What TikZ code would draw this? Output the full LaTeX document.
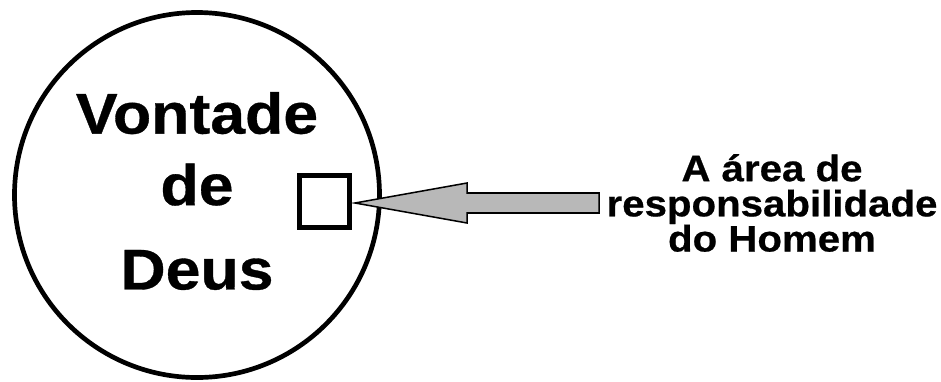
\documentclass[tikz,border=0pt]{standalone}
\usepackage{fontspec}
\setmainfont{Liberation Sans}
\newfontfamily\widesans[FakeStretch=1.09,FakeBold=0.6]{Liberation Sans}
\usepackage{tikz}
\usetikzlibrary{positioning}
\usetikzlibrary{calc}
\tikzset{
  border/.style   = { draw=black },
  bigtext/.style  = { font=\widesans\bfseries\fontsize{49}{61}\selectfont, align=center },
  smalltext/.style= { font=\widesans\bfseries\fontsize{31.5}{30}\selectfont, align=center },
}
\tikzset{
  will/.style     = { circle, border, line width=4pt, minimum size=10.95cm, inner sep=0pt },
  area/.style     = { rectangle, border, line width=4.3pt, minimum width=1.5cm, minimum height=1.56cm },
  fatarrow/.style = { draw=black, fill=black!28, line width=1.3pt, line join=miter }
}
\begin{document}
\begin{tikzpicture}[x=0.03cm,y=-0.03cm]
  \useasboundingbox (0,0) rectangle (941,381);

  \node (god)    [will]      at (197,195) {};
  \node (godtxt) [bigtext]   at ($ (god) + (0,-4) $) {Vontade\\de\\[11pt]Deus};
  \node (sq)     [area]      at (324.5,201.5) {};
  \node (lbl)    [smalltext] at (772,203) {A área de\\responsabilidade\\do Homem};

  \draw [fatarrow]
        ($ (sq.east) + (3,1.5) $)
        -- ++(112,-20) -- ++(0,10) -- ++(132,0)
        -- ++(0,20) -- ++(-132,0) -- ++(0,10) -- cycle;

\end{tikzpicture}
\end{document}
